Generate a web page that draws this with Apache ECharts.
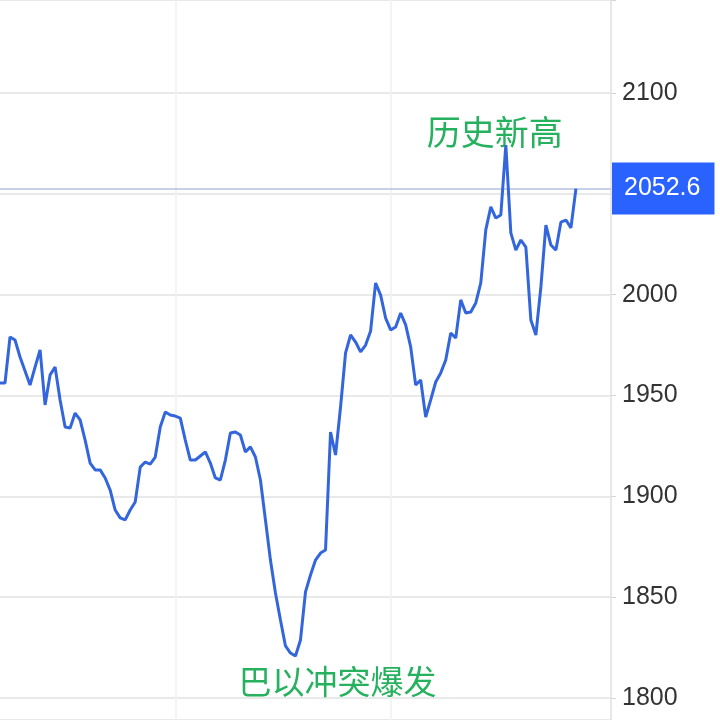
<!DOCTYPE html>
<html>
<head>
<meta charset="utf-8">
<script src="https://cdn.jsdelivr.net/npm/echarts@6/dist/echarts.min.js"></script>
<style>
html,body{margin:0;padding:0;background:#ffffff;}
#chart{width:720px;height:720px;}
</style>
</head>
<body>
<div id="chart"></div>
<script>
// Gold price, one value per trading session
const prices = [
  1956.2, 1956.2, 1979.0, 1977.5, 1969.1, 1962.2, 1955.2, 1964.1, 1972.6, 1945.3,
  1960.2, 1964.1, 1947.8, 1934.4, 1933.9, 1941.3, 1937.9, 1927.9, 1916.5, 1913.1,
  1913.1, 1909.1, 1903.1, 1893.2, 1889.3, 1888.3, 1893.2, 1897.2, 1914.5, 1917.0,
  1916.0, 1919.5, 1934.4, 1941.8, 1940.3, 1939.8, 1938.8, 1927.9, 1918.0, 1918.0,
  1920.0, 1922.0, 1916.5, 1909.1, 1908.1, 1918.0, 1931.4, 1931.9, 1930.4, 1922.0,
  1924.5, 1919.5, 1908.1, 1888.3, 1868.4, 1852.1, 1838.7, 1825.8, 1822.3, 1820.8,
  1828.8, 1852.6, 1861.0, 1868.4, 1871.9, 1873.4, 1931.9, 1920.5, 1944.3, 1971.1,
  1980.0, 1976.5, 1971.6, 1975.0, 1982.0, 2005.8, 1999.8, 1988.4, 1982.5, 1984.0,
  1990.9, 1985.0, 1974.1, 1955.2, 1957.7, 1939.3, 1947.8, 1956.7, 1961.2, 1967.6,
  1981.0, 1978.5, 1997.4, 1990.9, 1991.4, 1995.9, 2005.8, 2032.1, 2043.5, 2038.0,
  2039.5, 2074.2, 2030.6, 2022.1, 2027.1, 2023.6, 1987.4, 1980.0, 2003.8, 2034.5,
  2024.6, 2022.1, 2036.0, 2037.0, 2033.1, 2052.6
];
const lastPrice = 2052.6;
const tickLabels = ['1800', '1850', '1900', '1950', '2000', '2100'];
const highText = '历史新高';
const lowText = '巴以冲突爆发';
// visible price window of the panel
const yMin = 1789.1;
const yMax = 2146.1;
// session slots on the time axis (visible window extends past the last session)
const sessionCount = 123;
const sessions = Array.from({length: sessionCount}, (_, i) => 'D' + (i + 1));
const gridSessions = [35, 78, 122];

const chart = echarts.init(document.getElementById('chart'), null, {renderer: 'canvas'});
chart.setOption({
  animation: false,
  backgroundColor: '#ffffff',
  grid: {left: 0, right: 109, top: 0, bottom: 0, containLabel: false},
  xAxis: {
    type: 'category',
    data: sessions,
    boundaryGap: false,
    axisLine: {show: false},
    axisTick: {show: false},
    axisLabel: {show: false},
    splitLine: {
      show: true,
      interval: function (idx) { return gridSessions.indexOf(idx) >= 0; },
      lineStyle: {color: '#f0f0f0', width: 1.5}
    }
  },
  yAxis: {
    type: 'value',
    position: 'right',
    min: yMin,
    max: yMax,
    splitNumber: 7,
    axisLine: {show: true, lineStyle: {color: '#e4e4e4', width: 1.5}},
    axisTick: {show: true, length: 5, lineStyle: {color: '#d6d6d6'}},
    axisLabel: {
      show: true,
      margin: 11,
      color: '#333333',
      fontSize: 25,
      fontFamily: 'Liberation Sans, Arial, sans-serif',
      formatter: function (v) {
        const s = String(v);
        return tickLabels.indexOf(s) >= 0 ? s : '';
      }
    },
    splitLine: {show: true, lineStyle: {color: '#e9e9e9', width: 1.8}}
  },
  series: [{
    type: 'line',
    data: prices,
    showSymbol: false,
    symbol: 'none',
    lineStyle: {color: '#3366dd', width: 3},
    z: 5,
    markLine: {
      silent: true,
      symbol: ['none', 'none'],
      lineStyle: {color: '#b3c0e2', width: 1.5, type: 'solid'},
      label: {
        show: true,
        position: 'end',
        distance: 1,
        formatter: String(lastPrice),
        color: '#ffffff',
        fontSize: 25,
        fontFamily: 'Liberation Sans, Arial, sans-serif',
        backgroundColor: '#2962ff',
        padding: [15, 14, 12, 12]
      },
      data: [{yAxis: lastPrice}]
    },
    markPoint: {
      silent: true,
      symbol: 'circle',
      symbolSize: 1,
      itemStyle: {color: 'rgba(0,0,0,0)'},
      label: {
        show: true,
        position: 'inside',
        color: '#26b15e',
        fontSize: 34,
        fontFamily: 'Noto Sans CJK SC, sans-serif'
      },
      data: [
        {type: 'max', label: {formatter: highText, offset: [-11, -13]}},
        {type: 'min', label: {formatter: lowText, offset: [42, 25], fontSize: 33}}
      ]
    }
  }]
});
</script>
</body>
</html>
